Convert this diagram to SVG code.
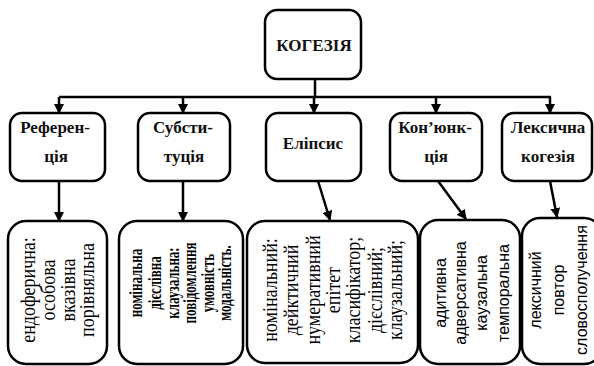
<svg xmlns="http://www.w3.org/2000/svg" width="594" height="366" viewBox="0 0 594 366">
<defs>
<marker id="ah" viewBox="0 0 10 10" refX="9" refY="5" markerWidth="4" markerHeight="4" orient="auto" markerUnits="strokeWidth">
<path d="M0,0 L10,5 L0,10 z" fill="#000"/>
</marker>
<style>
.box{fill:#fff;stroke:#000;stroke-width:2.5}
.ln{fill:none;stroke:#000;stroke-width:2.5}
.arr{fill:none;stroke:#000;stroke-width:2.5;marker-end:url(#ah)}
.h{font-family:"Liberation Serif","Times New Roman",serif;font-weight:bold;font-size:17px;text-anchor:middle;fill:#111}
.t{font-family:"Liberation Serif","Times New Roman",serif;font-size:18px;text-anchor:middle;fill:#000}
.tb{font-family:"Liberation Serif","Times New Roman",serif;font-weight:bold;font-size:13px;text-anchor:middle;fill:#000}
.s{font-family:"Liberation Sans",Arial,sans-serif;font-size:16px;text-anchor:middle;fill:#000}
</style>
</defs>
<g id="connectors">
<path class="ln" d="M315,79 V97 M59,97 H551"/>
<path class="arr" d="M59,97 V113"/>
<path class="arr" d="M183,97 V113"/>
<path class="arr" d="M314,97 V113"/>
<path class="arr" d="M436,97 V113"/>
<path class="arr" d="M550,97 V113"/>
<path class="arr" d="M59,181 V221"/>
<path class="arr" d="M183,181 V221"/>
<path class="arr" d="M318,181 L330,220"/>
<path class="arr" d="M438,181 L466,219"/>
<path class="arr" d="M550,181 L557,217"/>
</g>
<g id="kohezia">
<rect class="box" x="265" y="10" width="96" height="69" rx="12"/>
<text class="h" x="314" y="51" font-size="18">КОГЕЗІЯ</text>
</g>
<g id="referentsia">
<rect class="box" x="10" y="113" width="95" height="68" rx="12"/>
<text class="h" x="55" y="133">Референ-</text>
<text class="h" x="56" y="162">ція</text>
</g>
<g id="substytutsia">
<rect class="box" x="138" y="113" width="92" height="68" rx="12"/>
<text class="h" x="183" y="133">Субсти-</text>
<text class="h" x="184" y="162">туція</text>
</g>
<g id="elipsys">
<rect class="box" x="266" y="113" width="95" height="68" rx="12"/>
<text class="h" x="313" y="149">Еліпсис</text>
</g>
<g id="konjunktsia">
<rect class="box" x="390" y="113" width="92" height="68" rx="12"/>
<text class="h" x="435" y="133">Кон’юнк-</text>
<text class="h" x="436" y="162">ція</text>
</g>
<g id="leksychna">
<rect class="box" x="502" y="113" width="90" height="68" rx="12"/>
<text class="h" x="548" y="133">Лексична</text>
<text class="h" x="548" y="162">когезія</text>
</g>
<g id="ref-list">
<rect class="box" x="8" y="221" width="99" height="143" rx="18"/>
<text class="t" transform="translate(35,290) rotate(-90) scale(1,1.2)">ендоферична:</text>
<text class="t" transform="translate(55,290) rotate(-90) scale(1,1.2)">особова</text>
<text class="t" transform="translate(75,290) rotate(-90) scale(1,1.2)">вказівна</text>
<text class="t" transform="translate(94,290) rotate(-90) scale(1,1.2)">порівняльна</text>
</g>
<g id="subst-list">
<rect class="box" x="119" y="221" width="124" height="143" rx="18"/>
<text class="tb" transform="translate(142,283) rotate(-90) scale(1,1.4)">номінальна</text>
<text class="tb" transform="translate(161,283) rotate(-90) scale(1,1.4)">дієслівна</text>
<text class="tb" transform="translate(179,283) rotate(-90) scale(1,1.4)">клаузальна:</text>
<text class="tb" transform="translate(196,283) rotate(-90) scale(1,1.4)">повідомлення</text>
<text class="tb" transform="translate(214,283) rotate(-90) scale(1,1.4)">умовність</text>
<text class="tb" transform="translate(231,283) rotate(-90) scale(1,1.4)">модальність.</text>
</g>
<g id="elips-list">
<rect class="box" x="247" y="221" width="171" height="142" rx="18"/>
<text class="t" transform="translate(277,290) rotate(-90) scale(1,1.2)">номінальний:</text>
<text class="t" transform="translate(298,290) rotate(-90) scale(1,1.2)">дейктичний</text>
<text class="t" transform="translate(320,290) rotate(-90) scale(1,1.2)">нумеративний</text>
<text class="t" transform="translate(340,290) rotate(-90) scale(1,1.2)">епітет</text>
<text class="t" transform="translate(360,290) rotate(-90) scale(1,1.2)">класифікатор;</text>
<text class="t" transform="translate(382,290) rotate(-90) scale(1,1.2)">дієслівний;</text>
<text class="t" transform="translate(402,290) rotate(-90) scale(1,1.2)">клаузальний;</text>
</g>
<g id="konj-list">
<rect class="box" x="420" y="220" width="100" height="144" rx="18"/>
<text class="s" transform="translate(446,293) rotate(-90)">адитивна</text>
<text class="s" transform="translate(466,293) rotate(-90)">адверсативна</text>
<text class="s" transform="translate(487,293) rotate(-90)">каузальна</text>
<text class="s" transform="translate(509,293) rotate(-90)">темпоральна</text>
</g>
<g id="leks-list">
<rect class="box" x="522" y="218" width="80" height="146" rx="18"/>
<text class="s" font-size="17" transform="translate(541,290) rotate(-90)">лексичний</text>
<text class="s" font-size="17" transform="translate(564,290) rotate(-90)">повтор</text>
<text class="s" font-size="17" transform="translate(587,290) rotate(-90)">словосполучення</text>
</g>
</svg>
